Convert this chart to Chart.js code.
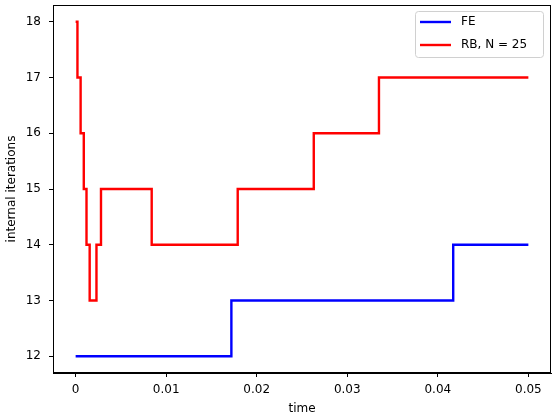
<!DOCTYPE html>
<html>
<head>
<meta charset="utf-8">
<script src="https://cdn.jsdelivr.net/npm/chart.js@4"></script>
<style>
  body { margin: 0; background: white; }
  #wrap { width: 554px; height: 416px; }
</style>
</head>
<body>
<div id="wrap"><canvas id="itGraph" width="554" height="416"></canvas></div>
<script>
// time vs internal iterations
const feTime = [0, 0.0172, 0.0417, 0.05];
const feIter = [12, 13, 14, 14];
const rbTime = [0, 0.0002, 0.00055, 0.0009, 0.0012, 0.00155, 0.0023, 0.0028, 0.0084, 0.0179, 0.0263, 0.0335, 0.05];
const rbIter = [18, 17, 16, 15, 14, 13, 14, 15, 14, 15, 16, 17, 17];
const xTicks = [0, 0.01, 0.02, 0.03, 0.04, 0.05];
const yTicks = [12, 13, 14, 15, 16, 17, 18];
const seriesNames = ['FE', 'RB, N = 25'];

const FONT = { family: 'DejaVu Sans', size: 12 };
Chart.defaults.font.family = 'DejaVu Sans';
Chart.defaults.color = '#000';

function toPoints(xs, ys) {
    return xs.map((x, i) => ({ x: x, y: ys[i] }));
}

const boxAndLegend = {
    id: 'box_and_legend',
    afterDraw: (chart) => {
        const ctx = chart.ctx;
        const a = chart.chartArea;
        ctx.save();
        ctx.strokeStyle = '#000';
        ctx.lineWidth = 1;
        ctx.strokeRect(a.left + 0.5, a.top + 0.5, a.right - a.left - 1, a.bottom - a.top - 1);

        // legend box, upper right like matplotlib
        const lx = a.right - 136, ly = a.top + 6, lw = 128, lh = 46;
        ctx.beginPath();
        ctx.roundRect(lx + 0.5, ly + 0.5, lw, lh, 3);
        ctx.fillStyle = 'rgba(255,255,255,0.8)';
        ctx.fill();
        ctx.strokeStyle = '#d0d0d0';
        ctx.stroke();
        ctx.font = '12px "DejaVu Sans"';
        ctx.textBaseline = 'middle';
        chart.data.datasets.forEach((ds, i) => {
            const yy = ly + 11 + i * 23;
            ctx.beginPath();
            ctx.moveTo(lx + 5, yy);
            ctx.lineTo(lx + 36, yy);
            ctx.strokeStyle = ds.borderColor;
            ctx.lineWidth = 2.4;
            ctx.stroke();
            ctx.fillStyle = '#000';
            ctx.fillText(ds.label, lx + 46, yy);
        });
        ctx.restore();
    }
};

const itChart = new Chart(document.getElementById('itGraph').getContext('2d'), {
    type: 'line',
    data: {
        datasets: [{
            label: seriesNames[0],
            data: toPoints(feTime, feIter),
            borderColor: '#0000ff',
            borderWidth: 2.4,
            pointRadius: 0,
            stepped: 'before'
        }, {
            label: seriesNames[1],
            data: toPoints(rbTime, rbIter),
            borderColor: '#ff0000',
            borderWidth: 2.4,
            pointRadius: 0,
            stepped: 'before'
        }]
    },
    options: {
        responsive: false,
        animation: false,
        layout: { padding: { top: 5, right: 3, left: 0, bottom: 0 } },
        plugins: {
            legend: { display: false },
            tooltip: { enabled: false }
        },
        scales: {
            x: {
                type: 'linear',
                min: -0.0025,
                max: 0.0525,
                afterBuildTicks: (s) => { s.ticks = xTicks.map(v => ({ value: v })); },
                afterFit: (s) => { s.height = 43; s.paddingLeft = 0; s.paddingRight = 0; },
                ticks: {
                    font: FONT,
                    color: '#000',
                    padding: 6,
                    maxRotation: 0,
                    callback: (v) => String(v)
                },
                grid: { display: true, drawOnChartArea: false, drawTicks: true, tickLength: 4, color: '#000' },
                border: { display: true, color: '#000' },
                title: { display: true, text: 'time', font: FONT, color: '#000', padding: { top: 0, bottom: 0 } }
            },
            y: {
                type: 'linear',
                min: 11.7,
                max: 18.3,
                afterBuildTicks: (s) => { s.ticks = yTicks.map(v => ({ value: v })); },
                afterFit: (s) => { s.width = 53; s.paddingTop = 0; s.paddingBottom = 0; },
                ticks: { font: FONT, color: '#000', padding: 8 },
                grid: { display: true, drawOnChartArea: false, drawTicks: true, tickLength: 4, color: '#000' },
                border: { display: true, color: '#000' },
                title: { display: true, text: 'internal iterations', font: FONT, color: '#000', padding: { top: 5, bottom: 0 } }
            }
        }
    },
    plugins: [boxAndLegend]
});
</script>
</body>
</html>
